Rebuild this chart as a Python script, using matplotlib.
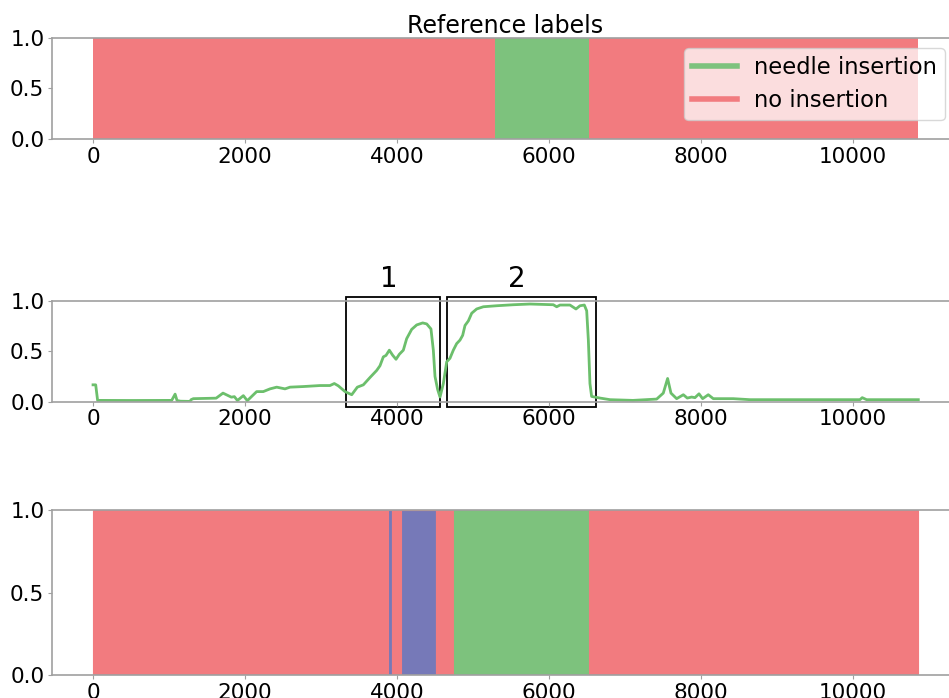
import matplotlib.pyplot as plt
from matplotlib.patches import Rectangle

RED = '#f27b7f'
GREEN = '#7dc27d'
BLUE = '#7679b8'
LINE_GREEN = '#6cbf6c'
SPINE = '#a0a0a0'

# reference labels: (start, end, class)
ref_segments = [(0, 5290, 'no'), (5290, 6530, 'needle'), (6530, 10860, 'no')]

# predicted labels: (start, end, class)
pred_segments = [(0, 3885, 'no'), (3885, 3935, 'unsure'), (3935, 4053, 'no'),
                 (4053, 4509, 'unsure'), (4509, 4746, 'no'),
                 (4746, 6530, 'needle'), (6530, 10860, 'no')]

seg_colors = {'no': RED, 'needle': GREEN, 'unsure': BLUE}

# predicted probability of needle insertion
prob_x = [0, 35, 60, 500, 1035, 1080, 1105, 1150, 1276, 1290, 1320, 1620, 1710,
          1820, 1860, 1900, 1978, 2030, 2153, 2240, 2329, 2417, 2526, 2592,
          2767, 2987, 3118, 3175, 3228, 3316, 3404, 3478, 3557, 3645, 3733,
          3776, 3820, 3855, 3899, 3943, 3987, 4031, 4083, 4127, 4193, 4259,
          4338, 4391, 4447, 4478, 4500, 4535, 4566, 4610, 4654, 4697, 4741,
          4785, 4829, 4864, 4895, 4939, 4983, 5048, 5136, 5311, 5531, 5750,
          6057, 6101, 6145, 6276, 6355, 6408, 6465, 6496, 6518, 6539, 6561,
          6671, 6803, 7105, 7417, 7504, 7561, 7605, 7680, 7768, 7820, 7877,
          7921, 7974, 8022, 8096, 8162, 8425, 8645, 10092, 10122, 10180, 10860]
prob_y = [0.167, 0.167, 0.013, 0.012, 0.013, 0.075, 0.012, 0.005, 0.003, 0.02,
          0.03, 0.035, 0.085, 0.045, 0.05, 0.012, 0.06, 0.01, 0.10, 0.10,
          0.127, 0.144, 0.127, 0.144, 0.15, 0.16, 0.16, 0.18, 0.157, 0.10,
          0.069, 0.144, 0.167, 0.24, 0.31, 0.356, 0.444, 0.458, 0.51, 0.46,
          0.42, 0.47, 0.51, 0.624, 0.716, 0.76, 0.78, 0.77, 0.72, 0.51, 0.25,
          0.12, 0.046, 0.18, 0.395, 0.43, 0.51, 0.575, 0.61, 0.657, 0.755,
          0.80, 0.876, 0.918, 0.94, 0.95, 0.96, 0.967, 0.96, 0.94, 0.957,
          0.957, 0.918, 0.95, 0.957, 0.90, 0.61, 0.18, 0.052, 0.036, 0.02,
          0.013, 0.026, 0.085, 0.23, 0.085, 0.03, 0.069, 0.036, 0.046, 0.04,
          0.078, 0.03, 0.069, 0.03, 0.03, 0.02, 0.02, 0.04, 0.02, 0.02]

# highlighted regions: (x0, x1, label)
boxes = [(3329, 4566, '1'), (4658, 6618, '2')]

plt.rcParams['font.family'] = 'DejaVu Sans'

fig = plt.figure(figsize=(9.49, 6.98), dpi=100)
ax1 = fig.add_axes([0.0548, 0.8009, 0.9557, 0.1447])
ax2 = fig.add_axes([0.0548, 0.4245, 0.9557, 0.1447])
ax3 = fig.add_axes([0.0548, 0.0325, 0.9557, 0.2370])


def style(ax):
    ax.set_xlim(-540, 11395)
    ax.set_ylim(0, 1)
    ax.set_yticks([0, 0.5, 1.0])
    ax.set_xticks([0, 2000, 4000, 6000, 8000, 10000])
    ax.tick_params(labelsize=15.5, color=SPINE, length=3, pad=2.5)
    for s in ax.spines.values():
        s.set_color(SPINE)
        s.set_linewidth(1.2)


for a, b, c in ref_segments:
    ax1.axvspan(a, b, color=seg_colors[c], lw=0)
for a, b, c in pred_segments:
    ec = RED if c == 'unsure' else seg_colors[c]
    ax3.axvspan(a, b, facecolor=seg_colors[c], edgecolor=ec, lw=0.8)

ax2.plot(prob_x, prob_y, color=LINE_GREEN, lw=2)
for x0, x1, lab in boxes:
    ax2.add_patch(Rectangle((x0, -0.05), x1 - x0, 1.09, fill=False,
                            edgecolor='black', lw=1.3, clip_on=False))
    ax2.text((x0 + x1) / 2 - 60, 1.08, lab, ha='center', va='bottom',
             fontsize=20)

for ax in (ax1, ax2, ax3):
    style(ax)

ax1.set_title('Reference labels', fontsize=17, pad=1)

h1, = ax1.plot([], [], color=GREEN, lw=4, label='needle insertion')
h2, = ax1.plot([], [], color=RED, lw=4, label='no insertion')
ax1.legend(handles=[h1, h2], loc='upper right', fontsize=16.3,
           bbox_to_anchor=(945 / 949, 1 - 48 / 698),
           bbox_transform=fig.transFigure, borderaxespad=0,
           framealpha=0.75, handlelength=2.0, handletextpad=0.75,
           labelspacing=0.45, borderpad=0.35)

fig.savefig('out.png', dpi=100)
